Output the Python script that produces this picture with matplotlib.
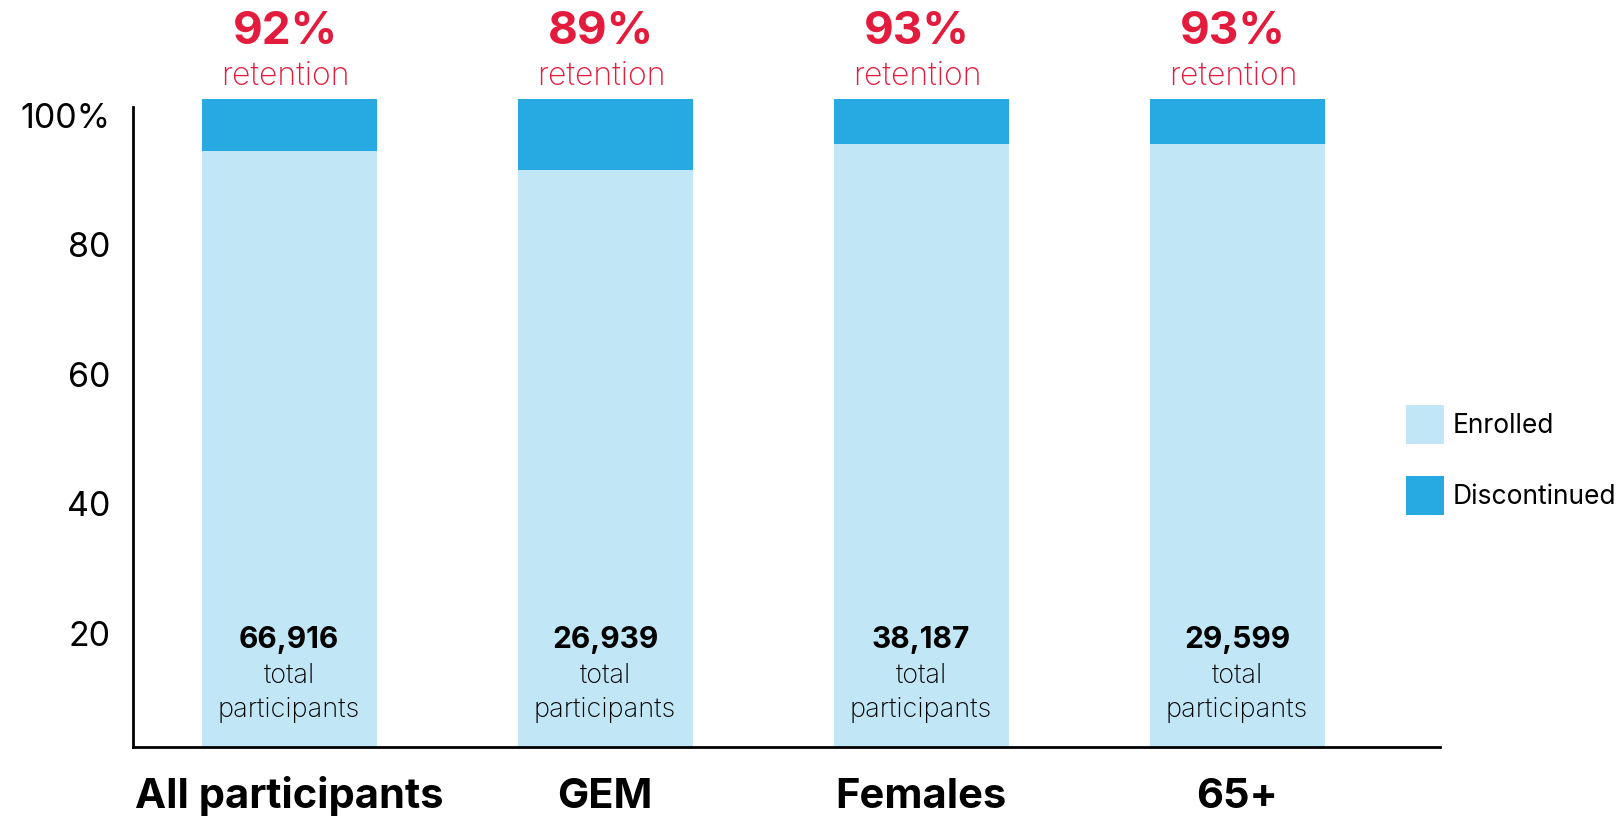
import matplotlib
matplotlib.use("Agg")
import matplotlib.pyplot as plt
import matplotlib.transforms as mtransforms
import numpy as np

categories = ["All participants", "GEM", "Females", "65+"]
enrolled = [92, 89, 93, 93]
discontinued = [8, 11, 7, 7]
retention_labels = ["92%", "89%", "93%", "93%"]
totals = ["66,916", "26,939", "38,187", "29,599"]
yticks = [20, 40, 60, 80, 100]
ytick_labels = ["20", "40", "60", "80", "100%"]

C_ENR = "#C1E7F7"
C_DIS = "#27AAE1"
C_RED = "#E31B3C"
FONT = ["Inter", "DejaVu Sans"]

plt.rcParams['font.family'] = FONT

fig = plt.figure(figsize=(16.21, 8.17), dpi=100)
ax = fig.add_axes([133/1621, 1-747/817, (1440-133)/1621, (747-99)/817])

x = np.arange(len(categories))
w = 0.554
ax.bar(x, enrolled, width=w, color=C_ENR, label="Enrolled", clip_on=False)
ax.bar(x, discontinued, width=w, bottom=enrolled, color=C_DIS, label="Discontinued", clip_on=False)

ax.set_xlim(-0.494, 3.642)
ax.set_ylim(0, 100)

for s in ["top", "right"]:
    ax.spines[s].set_visible(False)
ax.spines["left"].set_bounds(0, 98.8)
ax.spines["left"].set_linewidth(2)
ax.spines["bottom"].set_linewidth(2)

ax.set_yticks(yticks)
ax.set_yticklabels(ytick_labels, fontsize=24.5)
ax.tick_params(axis="y", length=0, pad=16)
offset = mtransforms.ScaledTranslation(0, -16/100, fig.dpi_scale_trans)
for lab in ax.get_yticklabels():
    lab.set_transform(lab.get_transform() + offset)

ax.set_xticks(x)
ax.set_xticklabels([""] * len(categories))
ax.tick_params(axis="x", length=0)

t = mtransforms.blended_transform_factory(ax.transData, fig.transFigure)
for i in range(len(categories)):
    ax.text(x[i], 1-808/817, categories[i], transform=t, ha="center", va="baseline",
            fontsize=30, fontweight="bold", color="black")
    ax.text(x[i] - 0.013, 1-32/817, retention_labels[i], transform=t, ha="center", va="center",
            fontsize=33, fontweight="bold", color=C_RED)
    ax.text(x[i] - 0.013, 1-76/817, "retention", transform=t, ha="center", va="center",
            fontsize=23, fontweight="light", color=C_RED)
    ax.text(x[i], 1-640/817, totals[i], transform=t, ha="center", va="center",
            fontsize=21.5, fontweight="bold", color="black")
    ax.text(x[i], 1-676/817, "total", transform=t, ha="center", va="center",
            fontsize=19.5, fontweight="light", color="black")
    ax.text(x[i], 1-710/817, "participants", transform=t, ha="center", va="center",
            fontsize=19.5, fontweight="light", color="black")

fig.legend(loc="upper left", bbox_to_anchor=(1382/1621, 1-381/817), frameon=False,
           fontsize=19, handlelength=1.45, handleheight=1.9, labelspacing=1.22,
           handletextpad=0.32)

fig.savefig("out.png", dpi=100)
